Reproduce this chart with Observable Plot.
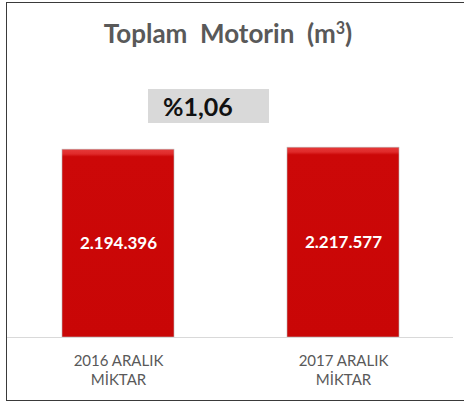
<!DOCTYPE html>
<html>
<head>
<meta charset="utf-8">
<script src="https://cdn.jsdelivr.net/npm/d3@7"></script>
<script src="https://cdn.jsdelivr.net/npm/@observablehq/plot@0.6"></script>
<style>
  html, body { margin: 0; padding: 0; background: #fff; }
  #wrap { position: relative; width: 464px; height: 405px; overflow: hidden; font-family: Lato, "Open Sans", sans-serif; }
  #frame { position: absolute; left: 6px; top: 2px; width: 480px; height: 399px; border: 1.6px solid #3a3a3a; box-sizing: border-box; }
  #title { position: absolute; left: 0; width: 456px; top: 17px; text-align: center; font-weight: bold; font-size: 26px; color: #595959; white-space: pre; }
  #title sup { font-size: 0.62em; vertical-align: 0.55em; line-height: 0; }
  #pct { position: absolute; left: 148px; top: 89px; width: 121px; height: 34px; background: #d9d9d9; box-sizing: border-box; padding-left: 15px; font-weight: bold; font-size: 25px; line-height: 34px; color: #111; }
  #chart { position: absolute; left: 0; top: 0; }
</style>
</head>
<body>
<div id="wrap">
  <div id="chart"></div>
  <div id="frame"></div>
  <div id="title"></div>
  <div id="pct"></div>
</div>
<script>
const categories = ["2016 ARALIK\nMİKTAR", "2017 ARALIK\nMİKTAR"];
const values = [2194396, 2217577];
const titleText = "Toplam  Motorin  (m";
const titleSup = "3";
const titleEnd = ")";

const tr = d3.formatLocale({decimal: ",", thousands: ".", grouping: [3], currency: ["", ""]});
const fmtInt = tr.format(",d");
const fmtPct = tr.format(",.2f");

const data = categories.map((c, i) => ({cat: c, value: values[i]}));

document.getElementById("title").innerHTML = titleText + "<sup>" + titleSup + "</sup>" + titleEnd;
document.getElementById("pct").textContent = "%" + fmtPct((values[1] / values[0] - 1) * 100);

const chart = Plot.plot({
  width: 464,
  height: 405,
  marginLeft: 7,
  marginRight: 11,
  marginTop: 123,
  marginBottom: 68,
  style: {fontFamily: "Lato, 'Open Sans', sans-serif", background: "transparent"},
  x: {domain: categories, paddingInner: 0.504, paddingOuter: 0.239, label: null},
  y: {domain: [0, 2500000], axis: null},
  marks: [
    Plot.barY(data, {x: "cat", y: "value", fill: "url(#barGrad)", stroke: "#b8b8b8", strokeWidth: 0.6}),
    Plot.ruleY([0], {stroke: "#d9d9d9", strokeWidth: 1.2}),
    Plot.text(data, {x: "cat", y: d => d.value / 2, text: d => fmtInt(d.value), fill: "white", fontWeight: "bold", fontSize: 17}),
    Plot.axisX({tickSize: 0, tickPadding: 15, fontSize: 15, color: "#595959", lineHeight: 1.27})
  ]
});

const ns = "http://www.w3.org/2000/svg";
const defs = document.createElementNS(ns, "defs");
defs.innerHTML = `
  <linearGradient id="barGrad" x1="0" y1="0" x2="0" y2="1">
    <stop offset="0" stop-color="#e63a3a"/>
    <stop offset="0.025" stop-color="#e02a2a"/>
    <stop offset="0.04" stop-color="#cc0808"/>
    <stop offset="1" stop-color="#c90606"/>
  </linearGradient>`;
chart.insertBefore(defs, chart.firstChild);
document.getElementById("chart").appendChild(chart);
</script>
</body>
</html>
